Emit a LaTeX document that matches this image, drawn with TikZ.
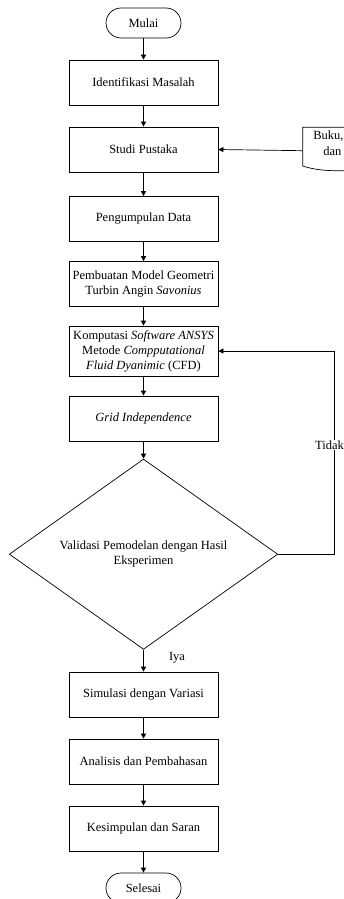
\documentclass[tikz,border=0pt]{standalone}
\usepackage{fontspec}
\setmainfont{Liberation Serif}
\usetikzlibrary{shapes.geometric,arrows.meta}
\tikzset{
  every node/.style={font=\fontsize{12.5}{15}\selectfont},
  box/.style={draw, line width=0.7pt, minimum width=149pt, minimum height=45pt, align=center, inner sep=2pt},
  term/.style={draw, line width=0.7pt, rounded corners=15pt, minimum width=75pt, minimum height=30pt, inner sep=2pt},
  dec/.style={draw, line width=0.7pt, diamond, aspect=1.41, minimum width=268.4pt, minimum height=190.3pt, inner sep=0pt, align=center},
  conn/.style={line width=0.7pt, -{Triangle[length=5pt,width=5pt]}},
  lbl/.style={inner sep=1pt}
}
\begin{document}
\begin{tikzpicture}[x=1pt,y=-1pt]
\clip (0,0) rectangle (344,899);
\fill[white] (0,0) rectangle (344,899);
\node[term] (mulai) at (143.5,23) {Mulai};
\node[box] (ident) at (143.5,82.5) {Identifikasi Masalah};
\node[box] (studi) at (143.5,149.5) {Studi Pustaka};
\node[box] (kumpul) at (143.5,219) {Pengumpulan Data};
\node[box] (model) at (143.5,284) {Pembuatan Model Geometri\\Turbin Angin \textit{Savonius}};
\node[box, minimum height=50pt] (komp) at (143.5,351) {Komputasi \textit{Software ANSYS}\\Metode \textit{Compputational}\\\textit{Fluid Dyanimic} (CFD)};
\node[box] (grid) at (143.5,418.5) {\textit{Grid Independence}};
\node[dec] (valid) at (143.5,554.2) {Validasi Pemodelan dengan Hasil\\Eksperimen};
\node[box] (simul) at (143.5,694.5) {Simulasi dengan Variasi};
\node[box] (anal) at (143.5,761.5) {Analisis dan Pembahasan};
\node[box] (kesim) at (143.5,828.5) {Kesimpulan dan Saran};
\node[term] (selesai) at (143.5,888) {Selesai};
% document shape (cut at right edge)
\coordinate (docw) at (302.7,150.7);
\draw[line width=0.7pt] (360,127.3) -- (302.7,127.3) -- (302.7,166) .. controls (318,171) and (335,171.5) .. (360,170);
\node[lbl, anchor=base west] (doct1) at (312.2,139.5) {Buku,};
\node[lbl, anchor=base west] (doct2) at (322.2,155) {dan};
% connectors
\draw[conn] (mulai) -- (ident);
\draw[conn] (ident) -- (studi);
\draw[conn] (studi) -- (kumpul);
\draw[conn] (kumpul) -- (model);
\draw[conn] (model) -- (komp);
\draw[conn] (komp) -- (grid);
\draw[conn] (grid) -- (valid);
\draw[conn] (valid) -- (simul);
\draw[conn] (simul) -- (anal);
\draw[conn] (anal) -- (kesim);
\draw[conn] (kesim) -- (selesai);
\draw[conn] (docw) -- (studi.east);
\coordinate (loop) at (334.3,554.2);
\draw[conn] (valid.east) -- (loop) |- (komp.east);
\node[lbl, fill=white] (tidak) at (329.5,445) {Tidak};
\node[lbl] (iya) at (177,658) {Iya};
\end{tikzpicture}
\end{document}
